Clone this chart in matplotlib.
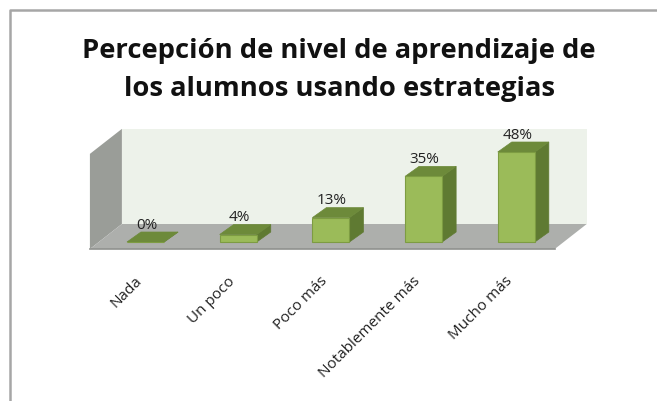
import matplotlib
matplotlib.use('Agg')
import matplotlib.pyplot as plt
from matplotlib.patches import Polygon, Rectangle

categorias = ['Nada', 'Un poco', 'Poco más', 'Notablemente más', 'Mucho más']
valores = [0, 4, 13, 35, 48]
titulo = 'Percepción de nivel de aprendizaje de\nlos alumnos usando estrategias'

plt.rcParams['font.family'] = ['Open Sans', 'DejaVu Sans']

fig = plt.figure(figsize=(6.57, 4.02), dpi=100)
ax = fig.add_axes([0, 0, 1, 1])
# eje x en categorias, eje y en porcentaje
ax.set_xlim(-1.57, 5.518)
ax.set_ylim(-84.8, 129.6)
ax.axis('off')

# marco del grafico (solo izquierda y arriba, lo demas queda cortado)
ax.plot([0.0145, 0.0145, 1], [0, 0.972, 0.972], transform=ax.transAxes, color='#a6a6a6', lw=1.8, zorder=0)

# paredes y piso
x0, x1 = -0.6, 4.415
y0, y_top = -3.73, 47
dx, dy = 0.345, 13.33
ax.add_patch(Polygon([(x0+dx, y0+dy), (x1+dx, y0+dy), (x1+dx, y_top+dy), (x0+dx, y_top+dy)],
                     fc='#edf2ea', ec='none', zorder=1))
ax.add_patch(Polygon([(x0, y0), (x0+dx, y0+dy), (x0+dx, y_top+dy), (x0, y_top)],
                     fc='#9a9d98', ec='none', zorder=2))
ax.add_patch(Polygon([(x0, y0), (x1, y0), (x1+dx, y0+dy), (x0+dx, y0+dy)],
                     fc='#adafac', ec='none', zorder=2))
ax.plot([x0, x1], [y0, y0], color='#8f918e', lw=1.2, zorder=2)

# barras
ancho = 0.2
px, py = 0.151, 5.33
for i, v in enumerate(valores):
    l, r = i-ancho, i+ancho
    ax.add_patch(Polygon([(r, 0), (r+px, py), (r+px, v+py), (r, v)], fc='#5f7a32', ec='#5f7a32', lw=0.5, zorder=3))
    ax.add_patch(Polygon([(l, v), (r, v), (r+px, v+py), (l+px, v+py)], fc='#6d8a3a', ec='#6d8a3a', lw=0.5, zorder=3))
    ax.add_patch(Rectangle((l, 0), 2*ancho, v, fc='#9bbb59', ec='#7d9c42', lw=0.8, zorder=4))
    ax.text(i+0.01, v+py+0.2, f'{v}%', ha='center', va='bottom', fontsize=11, color='#222222', zorder=5)
    ax.text(i-0.12, -16.5, categorias[i], rotation=45, rotation_mode='anchor', ha='right', va='top',
            fontsize=11, color='#222222', zorder=5)

ax.text(0.516, 0.827, titulo, transform=ax.transAxes, ha='center', va='center',
        fontsize=19.7, fontweight='bold', color='#111111', linespacing=1.6, zorder=5)

fig.savefig('out.png', dpi=100)
